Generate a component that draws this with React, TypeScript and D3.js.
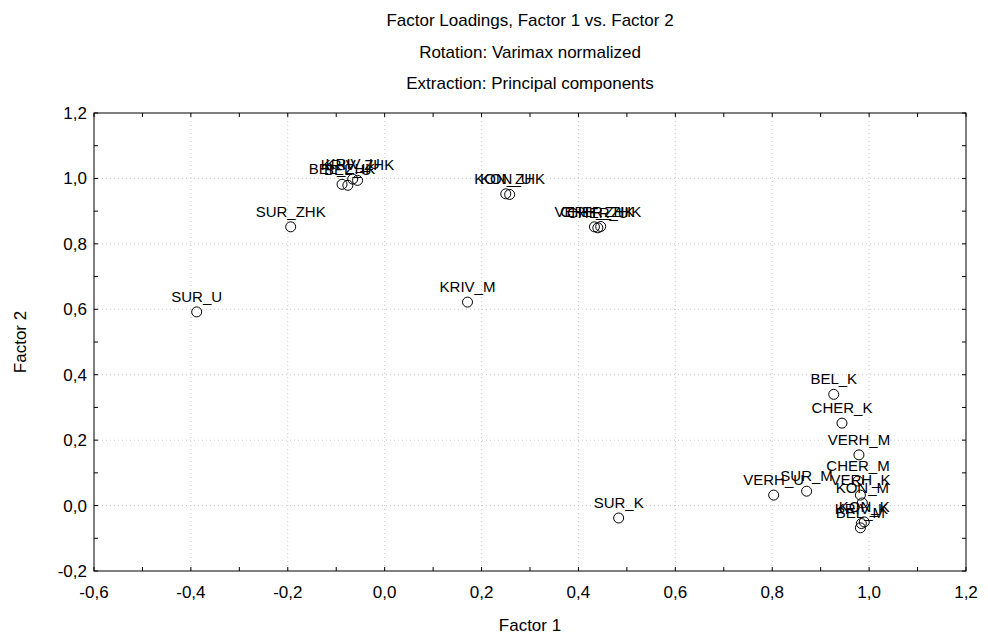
import React from "react";
import * as d3 from "d3";

const labels = [
  "SUR_U", "SUR_ZHK", "KRIV_M", "SUR_K", "SUR_M", "VERH_U",
  "BEL_ZHK", "BEL_U", "KRIV_U", "KRIV_ZHK",
  "KON_U", "KON_ZHK",
  "VERH_ZHK", "CHER_U", "CHER_ZHK",
  "BEL_K", "CHER_K", "VERH_M", "CHER_M", "VERH_K", "KON_M", "KRIV_K", "KON_K", "BEL_M",
];
const factor1 = [
  -0.388, -0.194, 0.171, 0.483, 0.871, 0.803,
  -0.088, -0.076, -0.066, -0.056,
  0.25, 0.258,
  0.433, 0.44, 0.446,
  0.927, 0.944, 0.979, 0.977, 0.982, 0.986, 0.984, 0.99, 0.982,
];
const factor2 = [
  0.592, 0.852, 0.622, -0.038, 0.044, 0.032,
  0.982, 0.979, 0.998, 0.994,
  0.953, 0.951,
  0.852, 0.849, 0.853,
  0.34, 0.252, 0.155, 0.075, 0.032, 0.008, -0.055, -0.05, -0.068,
];
const xTicks = [-0.6, -0.4, -0.2, 0.0, 0.2, 0.4, 0.6, 0.8, 1.0, 1.2];
const yTicks = [-0.2, 0.0, 0.2, 0.4, 0.6, 0.8, 1.0, 1.2];
const titleLines = [
  "Factor Loadings, Factor 1 vs. Factor 2",
  "Rotation: Varimax normalized",
  "Extraction: Principal components",
];

const W = 988, H = 637;
const L = 94, R = 966, T = 113, B = 571;
const FONT = "Arial, 'Liberation Sans', sans-serif";

const fmt = (v: number) => v.toFixed(1).replace(".", ",").replace("-0,0", "0,0");

export default function App() {
  const x = d3.scaleLinear().domain([-0.6, 1.2]).range([L, R]);
  const y = d3.scaleLinear().domain([-0.2, 1.2]).range([B, T]);
  const minorX = d3.range(-0.6, 1.2001, 0.1);
  const minorY = d3.range(-0.2, 1.2001, 0.1);
  const pts = labels.map((l, i) => ({ l, fx: factor1[i], fy: factor2[i] }));
  return (
    <svg width={W} height={H} style={{ position: "absolute", left: 0, top: 0, background: "#fff" }} fontFamily={FONT}>
      <rect x={0} y={0} width={W} height={H} fill="#fff" />
      {titleLines.map((t, i) => (
        <text key={t} x={(L + R) / 2} y={26 + i * 31.5} textAnchor="middle" fontSize={17} fill="#000">{t}</text>
      ))}
      {xTicks.slice(1, -1).map((v) => (
        <line key={"gx" + v} x1={x(v)} x2={x(v)} y1={T} y2={B} stroke="#c8c8c8" strokeDasharray="1,3" />
      ))}
      {yTicks.slice(1, -1).map((v) => (
        <line key={"gy" + v} x1={L} x2={R} y1={y(v)} y2={y(v)} stroke="#c8c8c8" strokeDasharray="1,3" />
      ))}
      {minorX.map((v, i) => (
        <g key={"tx" + i}>
          <line x1={x(v)} x2={x(v)} y1={B} y2={B - 4} stroke="#000" />
          <line x1={x(v)} x2={x(v)} y1={T} y2={T + 4} stroke="#000" />
        </g>
      ))}
      {minorY.map((v, i) => (
        <g key={"ty" + i}>
          <line x1={L} x2={L + 4} y1={y(v)} y2={y(v)} stroke="#000" />
          <line x1={R} x2={R - 4} y1={y(v)} y2={y(v)} stroke="#000" />
        </g>
      ))}
      <rect x={L} y={T} width={R - L} height={B - T} fill="none" stroke="#000" strokeWidth={1} />
      {xTicks.map((v) => (
        <text key={"xl" + v} x={x(v)} y={B + 27} textAnchor="middle" fontSize={17} fill="#000">{fmt(v)}</text>
      ))}
      {yTicks.map((v) => (
        <text key={"yl" + v} x={L - 7} y={y(v) + 6} textAnchor="end" fontSize={17} fill="#000">{fmt(v)}</text>
      ))}
      <text x={(L + R) / 2} y={631} textAnchor="middle" fontSize={17} fill="#000">Factor 1</text>
      <text transform={`translate(26,${(T + B) / 2}) rotate(-90)`} textAnchor="middle" fontSize={17} fill="#000">Factor 2</text>
      {pts.map((p) => (
        <g key={p.l}>
          <circle cx={x(p.fx)} cy={y(p.fy)} r={5} fill="none" stroke="#000" strokeWidth={1} />
          <text x={x(p.fx)} y={y(p.fy) - 10} textAnchor="middle" fontSize={15} fill="#000">{p.l}</text>
        </g>
      ))}
    </svg>
  );
}
